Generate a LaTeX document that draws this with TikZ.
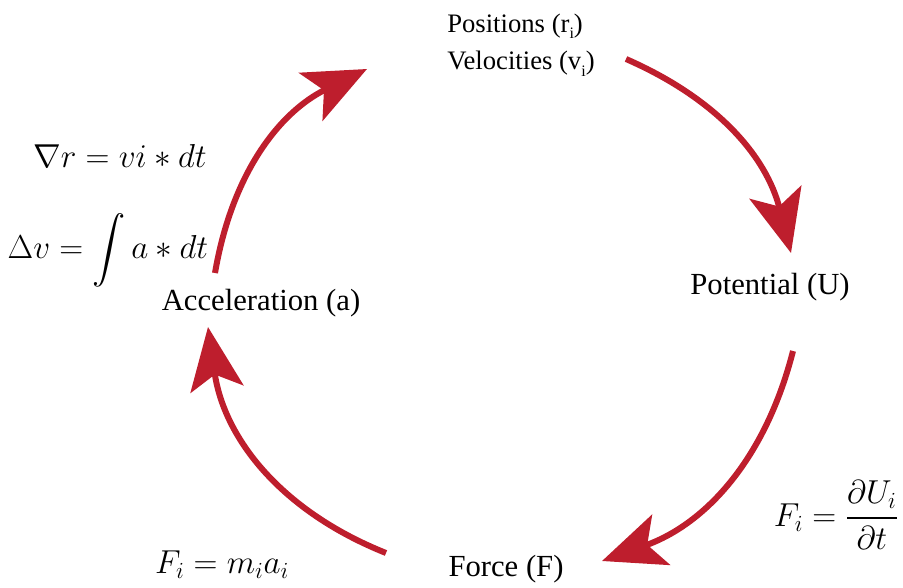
\documentclass[tikz,border=0pt]{standalone}
\usepackage{amsmath}
\usepackage{exscale}
\usepackage{fontspec}
\setmainfont{Liberation Serif}
\usetikzlibrary{arrows.meta}
\definecolor{cycleRed}{HTML}{BE1E2D}
\tikzset{
  x=0.75pt, y=0.75pt,
  cyc/.style={-{Stealth[length=47pt, width=40pt, inset=11pt]}, line width=4.5pt, cycleRed},
  lbl/.style={font=\fontsize{23}{28}\selectfont, inner sep=0pt},
  small/.style={font=\fontsize{20}{28}\selectfont, inner sep=0pt, align=left},
  eq/.style={font=\fontsize{24}{28}\selectfont, inner sep=0pt},
}

\begin{document}
\begin{tikzpicture}
  \useasboundingbox (0,0) rectangle (903,587);
  % labels round the cycle
  \node[small, anchor=west] (pos) at (447,542) {Positions (r\raisebox{-5pt}{\fontsize{12}{12}\selectfont i})\\Velocities (v\raisebox{-5pt}{\fontsize{12}{12}\selectfont i})};
  \node[lbl] (pot) at (770,300) {Potential (U)};
  \node[lbl] (force) at (506,18) {Force (F)};
  \node[lbl] (acc) at (261,284) {Acceleration (a)};
  % equations
  \node[eq] (eqr) at (120,431) {$\nabla r = vi \ast dt$};
  \node[eq] (eqv) at (108,337) {$\displaystyle \Delta v = \int a \ast dt$};
  \node[eq] (eqf) at (836,72) {$\displaystyle F_i = \frac{\partial U_i}{\partial t}$};
  \node[eq] (eqm) at (222,22) {$F_i = m_i a_i$};
  % arc ends
  \coordinate (s1) at (215,314);
  \coordinate (t1) at (367,518);
  \coordinate (s2) at (626,528);
  \coordinate (t2) at (791,334);
  \coordinate (s3) at (793,236);
  \coordinate (t3) at (602,26);
  \coordinate (s4) at (386,34);
  \coordinate (t4) at (208,260);
  \draw[cyc] (s1) to[bend left=27] (t1);
  \draw[cyc] (s2) to[bend left=26] (t2);
  \draw[cyc] (s3) to[bend left=28] (t3);
  \draw[cyc] (s4) to[bend left=30] (t4);
\end{tikzpicture}
\end{document}
